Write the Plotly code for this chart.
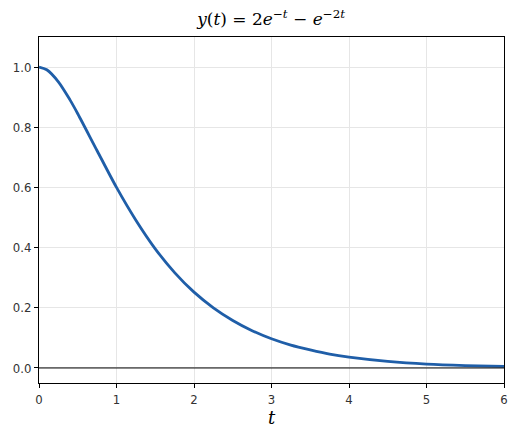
import plotly.graph_objects as go

# values
t = [0, 0.1, 0.25, 0.4, 0.5, 0.75, 1.0, 1.25, 1.5, 1.75, 2.0, 2.25, 2.5, 2.75,
     3.0, 3.25, 3.5, 3.75, 4.0, 4.5, 5.0, 5.5, 6.0]
y = [1.0, 0.991, 0.951, 0.891, 0.845, 0.722, 0.600, 0.491, 0.396, 0.317, 0.252, 0.200,
     0.158, 0.124, 0.097, 0.076, 0.060, 0.046, 0.036, 0.022, 0.013, 0.008,
     0.005]

x_ticks = [0, 1, 2, 3, 4, 5, 6]
y_ticks = [0.0, 0.2, 0.4, 0.6, 0.8, 1.0]
y_labels = ['0.0', '0.2', '0.4', '0.6', '0.8', '1.0']

fig = go.Figure()

fig.add_trace(go.Scatter(
    x=t, y=y,
    mode='lines',
    line={'color': '#1f5ea8', 'width': 2.8, 'shape': 'spline', 'smoothing': 0.8},
    showlegend=False,
    hoverinfo='none',
))

fig.add_hline(y=0, line_color='black', line_width=1, opacity=1)

axis_style = dict(
    showline=True, linecolor='black', linewidth=1, mirror=True,
    showgrid=True, gridcolor='#e6e6e6', gridwidth=1,
    ticks='outside', ticklen=4, tickcolor='black',
    zeroline=False, automargin=False,
    tickfont={'family': 'DejaVu Sans Condensed, DejaVu Sans', 'size': 13, 'color': '#333333'},
)

# the page body adds an 8px offset, so margins are shifted to compensate
fig.update_layout(
    width=517,
    height=438,
    margin={'l': 31, 'r': 21, 't': 29, 'b': 63, 'autoexpand': False},
    paper_bgcolor='white',
    plot_bgcolor='white',
    title={
        'text': '<i>y</i>(<i>t</i>) = 2<i>e</i><sup>\u2212<i>t</i></sup> \u2212 <i>e</i><sup>\u22122<i>t</i></sup>',
        'x': 0.509, 'xanchor': 'center',
        'y': 0.975, 'yanchor': 'middle',
        'font': {'family': 'DejaVu Serif', 'size': 17, 'color': 'black'},
    },
    xaxis=dict(axis_style, range=[0, 6], tickvals=x_ticks,
               title={'text': '<i>t</i>', 'standoff': 4,
                      'font': {'family': 'DejaVu Serif', 'size': 18, 'color': 'black'}}),
    yaxis=dict(axis_style, range=[-0.05, 1.1], tickvals=y_ticks, ticktext=y_labels),
)

fig.write_html('out.html')
